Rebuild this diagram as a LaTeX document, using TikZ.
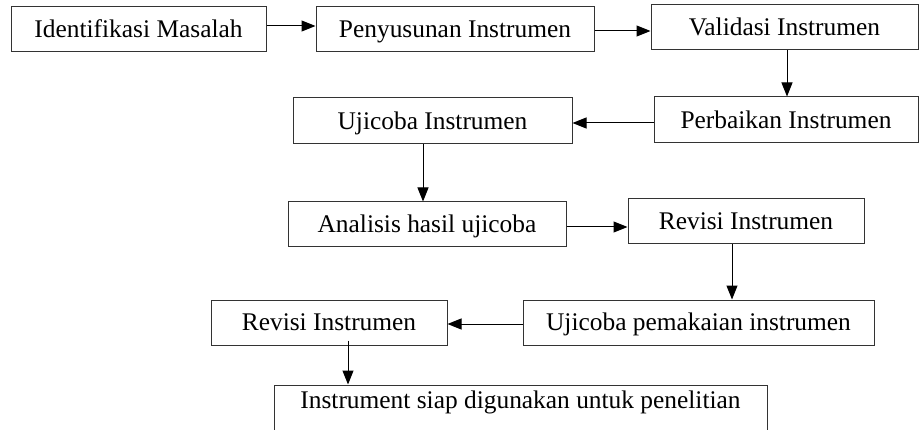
\documentclass[tikz,border=0pt]{standalone}
\usepackage{fontspec}
\setmainfont{Liberation Serif}
\usetikzlibrary{arrows.meta}
\begin{document}
\begin{tikzpicture}[x=1pt,y=-1pt,
  box/.style={draw=black!80,line width=1pt,rectangle,inner sep=0pt,
    text height=16.5pt,text depth=0pt,
    font=\fontsize{25.4}{30}\selectfont},
  conn/.style={draw=black,line width=1pt,-{Triangle[length=14pt,width=11pt]}}]
\useasboundingbox (0,0) rectangle (920,430);
\clip (0,0) rectangle (920,430);
\node[box,minimum width=255pt,minimum height=45pt] (b1) at (138.5,29.5) {Identifikasi Masalah};
\node[box,minimum width=278pt,minimum height=45pt] (b2) at (455,29.5) {Penyusunan Instrumen};
\node[box,minimum width=267pt,minimum height=45pt] (b3) at (784.5,27.5) {Validasi Instrumen};
\node[box,minimum width=264pt,minimum height=46pt] (b4) at (786,120) {Perbaikan Instrumen};
\node[box,minimum width=279pt,minimum height=46pt] (b5) at (432.5,121) {Ujicoba Instrumen};
\node[box,minimum width=278pt,minimum height=45pt] (b6) at (427,224.5) {Analisis hasil ujicoba};
\node[box,minimum width=236pt,minimum height=45pt] (b7) at (746,221.5) {Revisi Instrumen};
\node[box,minimum width=351pt,minimum height=45pt] (b8) at (698.5,322.5) {Ujicoba pemakaian instrumen};
\node[box,minimum width=236pt,minimum height=45pt] (b9) at (329,322.5) {Revisi Instrumen};
\node[box,text height=14pt,text depth=14pt,minimum width=493pt,minimum height=46pt] (b10) at (520.5,408) {Instrument siap digunakan untuk penelitian};

\draw[conn] ([yshift=3.5pt]b1.east) -- ([yshift=3.5pt]b1.east -| b2.west);
\draw[conn] ([yshift=-1.5pt]b2.east) -- ([yshift=-1.5pt]b2.east -| b3.west);
\draw[conn] ([xshift=2.5pt]b3.south) -- ([xshift=2.5pt]b3.south |- b4.north);
\draw[conn] ([yshift=-3pt]b4.west) -- ([yshift=-3pt]b4.west -| b5.east);
\draw[conn] ([xshift=-9.5pt]b5.south) -- ([xshift=-9.5pt]b5.south |- b6.north);
\draw[conn] ([yshift=-2.5pt]b6.east) -- ([yshift=-2.5pt]b6.east -| b7.west);
\draw[conn] ([xshift=-14pt]b7.south) -- ([xshift=-14pt]b7.south |- b8.north);
\draw[conn] ([yshift=-1.5pt]b8.west) -- ([yshift=-1.5pt]b8.west -| b9.east);
\draw[conn] ([xshift=19pt,yshift=5pt]b9.south) -- ([xshift=19pt]b9.south |- b10.north);
\end{tikzpicture}
\end{document}
